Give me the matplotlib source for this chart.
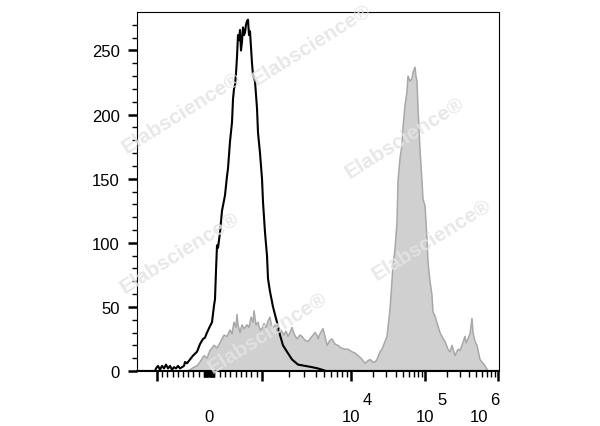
import numpy as np
import matplotlib
matplotlib.use("Agg")
import matplotlib.pyplot as plt
from matplotlib.ticker import FixedLocator, NullFormatter

# histogram data, x in display channels (0..362), y in counts
ctrl_chan = [0, 18, 19, 21, 23, 25, 27, 29, 31, 33, 35, 37, 39, 41, 43, 45, 47, 48, 50, 53,
             56, 60, 63, 66, 68, 70, 73, 75, 77, 78, 79, 80, 81, 83, 85, 87, 88, 90, 91, 93,
             95, 96, 97, 98, 99, 100, 101, 102, 103, 104, 105, 106, 107, 108, 109, 110, 111, 112, 113, 115,
             116, 118, 120, 121, 123, 125, 126, 128, 130, 131, 133, 136, 140, 143, 146, 150, 155, 161, 168, 175,
             181, 185, 189, 362]
ctrl_count = [0, 0, 2, 4, 1, 4, 2, 5, 2, 4, 1, 3, 2, 4, 2, 3, 4, 7, 6, 9,
              12, 15, 21, 25, 26, 30, 35, 38, 51, 56, 78, 98, 96, 108, 125, 133, 137, 152, 158, 179,
              194, 212, 220, 223, 232, 245, 262, 258, 266, 250, 257, 268, 262, 264, 270, 273, 274, 262, 265, 240,
              231, 226, 205, 186, 170, 150, 132, 108, 90, 72, 62, 50, 38, 28, 20, 15, 9, 5, 4, 3,
              2, 1, 0, 0]

stain_chan = [50, 53, 57, 60, 63, 67, 70, 73, 77, 80, 83, 87, 90, 93, 95, 97, 99, 100, 101, 103,
              105, 107, 110, 112, 114, 116, 117, 119, 121, 123, 125, 127, 129, 131, 133, 135, 138, 141, 144, 147,
              149, 151, 153, 155, 157, 160, 163, 165, 168, 171, 174, 176, 178, 180, 181, 183, 186, 188, 190, 193,
              195, 198, 201, 204, 208, 211, 215, 218, 221, 224, 228, 231, 233, 236, 238, 240, 243, 245, 248, 250,
              253, 255, 256, 258, 260, 261, 263, 265, 266, 268, 270, 271, 273, 275, 276, 278, 279, 280, 281, 283,
              285, 286, 288, 290, 291, 293, 295, 296, 298, 301, 303, 305, 308, 311, 313, 315, 318, 321, 323, 325,
              328, 329, 331, 333, 335, 336, 338, 340, 343, 346, 348, 351]
stain_count = [0, 1, 3, 4, 7, 12, 10, 16, 20, 18, 22, 28, 27, 32, 29, 38, 34, 44, 36, 30,
               36, 33, 36, 34, 42, 38, 47, 36, 38, 32, 33, 37, 34, 39, 42, 33, 36, 30, 32, 28,
               31, 27, 30, 34, 29, 25, 28, 27, 24, 23, 26, 28, 30, 28, 25, 29, 33, 27, 20, 24,
               25, 21, 20, 18, 17, 17, 15, 14, 12, 10, 6, 8, 9, 7, 7, 9, 15, 17, 23, 27,
               48, 70, 82, 95, 116, 148, 166, 176, 190, 207, 218, 230, 226, 228, 233, 237, 230, 226, 205, 173,
               148, 134, 129, 103, 85, 70, 59, 46, 43, 35, 30, 27, 23, 17, 15, 20, 12, 17, 16, 20,
               27, 22, 25, 29, 41, 30, 23, 20, 9, 6, 4, 0]

# biexponential axis: value -> channel
anchor_u = [-1, 0, 1, 2, 3, 4]
anchor_chan = [20, 72, 125, 214, 288, 361]


def to_chan(v):
    v = np.asarray(v, dtype=float)
    a = np.abs(v)
    u = np.where(a <= 1000, a / 1000, 1 + np.log10(np.maximum(a, 1) / 1000))
    return np.interp(np.sign(v) * u, anchor_u, anchor_chan)


major_vals = [-1e3, 1e3, 1e4, 1e5, 1e6]
minor_vals = ([-s * 100 for s in range(1, 10)] + [-s * 10 for s in range(1, 10)] + [0]
              + [s * 10 for s in range(1, 10)] + [s * 100 for s in range(1, 10)]
              + [s * 10 ** d for d in (3, 4, 5) for s in range(2, 10)])

labels = ["0", "10", "10", "10"]
label_vals = [0, 1e4, 1e5, 1e6]
label_sup = ["4", "5", "6"]
label_shift = [0, 0, 0, -14]

plt.rcParams['font.family'] = ['Liberation Sans Narrow', 'Liberation Sans', 'DejaVu Sans']

fig = plt.figure(figsize=(6, 4.27), dpi=100)
ax = fig.add_axes([137 / 600, 55 / 427, 362 / 600, 359 / 427])

ax.fill_between(stain_chan, stain_count, 0, facecolor="#d0d0d0", edgecolor="none", zorder=1)
ax.plot(stain_chan, stain_count, color="#a8a8a8", lw=1.1, zorder=2)
ax.plot(ctrl_chan, ctrl_count, color="black", lw=1.5, zorder=4)

ax.set_xlim(0, 362)
ax.set_ylim(0, 280)

ax.yaxis.set_major_locator(FixedLocator([0, 50, 100, 150, 200, 250]))
ax.yaxis.set_minor_locator(FixedLocator([v for v in range(10, 280, 10) if v % 50]))
ax.tick_params(axis="y", which="major", direction="out", length=6.5, width=1.8, labelsize=12, pad=6)
ax.tick_params(axis="y", which="minor", direction="out", length=3.5, width=1)

ax.xaxis.set_major_locator(FixedLocator(to_chan(major_vals)))
ax.xaxis.set_minor_locator(FixedLocator(to_chan(minor_vals)))
ax.xaxis.set_major_formatter(NullFormatter())
ax.tick_params(axis="x", which="major", direction="out", length=7.5, width=1.8)
ax.tick_params(axis="x", which="minor", direction="out", length=4, width=1)

for i, (lab, v, dx) in enumerate(zip(labels, label_vals, label_shift)):
    x = float(to_chan(v))
    ax.annotate(lab, xy=(x, 0), xycoords=("data", "axes fraction"), xytext=(dx, -36),
                textcoords="offset points", ha="center", va="baseline", fontsize=12)
    if i > 0:
        ax.annotate(label_sup[i - 1], xy=(x, 0), xycoords=("data", "axes fraction"),
                    xytext=(dx + 12, -24), textcoords="offset points",
                    ha="center", va="baseline", fontsize=12)

for side in ["top", "right", "left"]:
    ax.spines[side].set_linewidth(0.8)
ax.spines["bottom"].set_linewidth(1.5)

# watermark
marks = [(182, 113), (312, 45), (405, 138), (180, 253), (432, 240), (268, 333)]
for mx, my in marks:
    fig.text(mx / 600, 1 - my / 427, "Elabscience®", rotation=32, ha="center", va="center",
             rotation_mode="anchor", fontsize=15, fontweight="bold", color="#e4e4e4",
             alpha=0.85, family=["Liberation Sans", "DejaVu Sans"], zorder=3)

fig.savefig("out.png", dpi=100)
